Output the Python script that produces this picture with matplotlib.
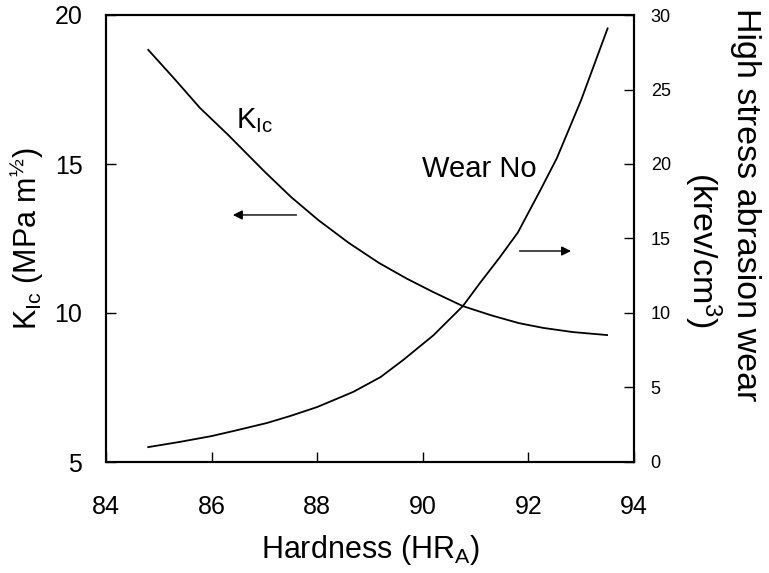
import matplotlib.pyplot as plt

plt.rcParams['font.family'] = ['Liberation Sans', 'DejaVu Sans']
plt.rcParams['mathtext.default'] = 'regular'

# K_Ic curve (left axis)
kic_hard = [84.8, 85.3, 85.78, 86.3, 87.0, 87.5, 88.02, 88.6, 89.17, 89.7, 90.2, 90.76, 91.3, 91.82, 92.28, 92.84, 93.49]
kic_vals = [18.83, 17.85, 16.88, 16.0, 14.75, 13.9, 13.12, 12.35, 11.68, 11.15, 10.7, 10.23, 9.92, 9.66, 9.50, 9.36, 9.26]

# wear number curve (right axis)
wear_hard = [84.8, 85.4, 86.0, 86.5, 87.05, 87.5, 88.0, 88.68, 89.2, 89.63, 90.2, 90.76, 91.08, 91.45, 91.8, 92.22, 92.54, 93.0, 93.5]
wear_vals = [1.0, 1.35, 1.74, 2.15, 2.62, 3.1, 3.69, 4.7, 5.7, 6.85, 8.5, 10.47, 12.0, 13.7, 15.4, 18.2, 20.4, 24.3, 29.1]

xticks = [84, 86, 88, 90, 92, 94]
left_ticks = [5, 10, 15, 20]
right_ticks = [0, 5, 10, 15, 20, 25, 30]

fig = plt.figure(figsize=(7.69, 5.73), dpi=100)
ax = fig.add_axes([106 / 769, 1 - 462 / 573, 528 / 769, 447 / 573])
ax2 = ax.twinx()

ax.plot(kic_hard, kic_vals, color='black', lw=1.3)
ax2.plot(wear_hard, wear_vals, color='black', lw=1.3)

ax.set_xlim(84, 94)
ax.set_ylim(5, 20)
ax2.set_ylim(0, 30)
ax.set_xticks(xticks)
ax.set_yticks(left_ticks)
ax2.set_yticks(right_ticks)

ax.tick_params(direction='in', length=7, width=1, labelsize=18, pad=17)
ax.tick_params(axis='x', pad=24)
ax2.tick_params(direction='in', length=7, width=1, labelsize=13, pad=12)

for a in (ax, ax2):
    for s in a.spines.values():
        s.set_linewidth(1.5)

ax.set_xlabel('Hardness (HR$_A$)', fontsize=22, labelpad=10)
ax.set_ylabel('K$_{Ic}$ (MPa m$^{½}$)', fontsize=22, labelpad=6)

# right axis title: two lines placed separately as in the original
fig.text(745 / 769, 1 - 205 / 573, 'High stress abrasion wear', fontsize=24.5,
         rotation=270, ha='center', va='center')
fig.text(703 / 769, 1 - 250 / 573, '(krev/cm$^3$)', fontsize=24.5,
         rotation=270, ha='center', va='center')

ax.text(86.46, 16.2, 'K$_{Ic}$', fontsize=21, ha='left', va='baseline')
ax.text(89.98, 14.56, 'Wear No', fontsize=21, ha='left', va='baseline')

ax.annotate('', xy=(86.35, 13.29), xytext=(87.66, 13.29),
            arrowprops=dict(arrowstyle='-|>', color='black', lw=1, mutation_scale=14))
ax.annotate('', xy=(92.86, 12.08), xytext=(91.78, 12.08),
            arrowprops=dict(arrowstyle='-|>', color='black', lw=1, mutation_scale=14))

fig.savefig('out.png', dpi=100)
